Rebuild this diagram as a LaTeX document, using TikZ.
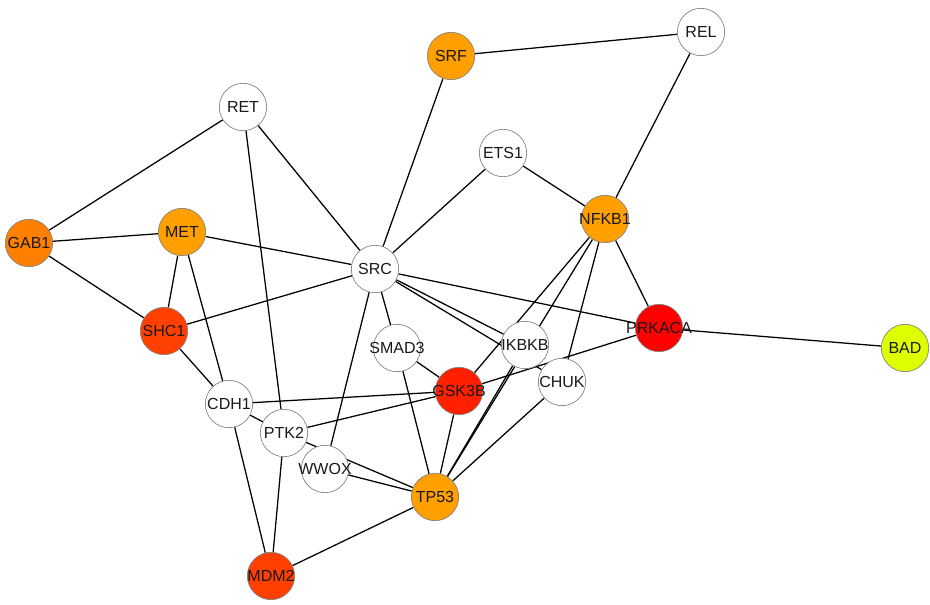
\documentclass[tikz,border=0pt]{standalone}
\usepackage{fontspec}
\setmainfont{Liberation Sans}
\usetikzlibrary{backgrounds}
\definecolor{cOrA}{HTML}{FFA000}
\definecolor{cOrB}{HTML}{FF8000}
\definecolor{cRdA}{HTML}{FF4000}
\definecolor{cRdB}{HTML}{FF2000}
\definecolor{cRdC}{HTML}{FF0000}
\definecolor{cYel}{HTML}{DDFF00}
\definecolor{cRim}{HTML}{808080}
\tikzset{
  nd/.style={circle, draw=cRim, line width=0.5pt, fill=white, minimum size=35.5pt, inner sep=0pt,
    label={[font=\fontsize{12}{12}\selectfont, text=black!90, inner sep=0pt]center:#1}},
  ed/.style={draw=black, line width=0.95pt},
}
\begin{document}
\begin{tikzpicture}[x=0.75pt, y=-0.75pt]
\useasboundingbox (0,0) rectangle (930,605);
\node[nd=REL] (REL) at (701,32) {};
\node[nd=SRF, fill=cOrA] (SRF) at (451,56) {};
\node[nd=RET] (RET) at (243,107) {};
\node[nd=ETS1] (ETS1) at (503,153) {};
\node[nd=NFKB1, fill=cOrA] (NFKB1) at (605,219) {};
\node[nd=GAB1, fill=cOrB] (GAB1) at (29,243) {};
\node[nd=MET, fill=cOrA] (MET) at (182,232) {};
\node[nd=SRC] (SRC) at (375,269) {};
\node[nd=SHC1, fill=cRdA] (SHC1) at (164,331) {};
\node[nd=PRKACA, fill=cRdC] (PRKACA) at (659,328) {};
\node[nd=BAD, fill=cYel] (BAD) at (905,348) {};
\node[nd=SMAD3] (SMAD3) at (397,348) {};
\node[nd=IKBKB] (IKBKB) at (525,345) {};
\node[nd=CHUK] (CHUK) at (562,382) {};
\node[nd=GSK3B, fill=cRdB] (GSK3B) at (459,391) {};
\node[nd=CDH1] (CDH1) at (229,404) {};
\node[nd=PTK2] (PTK2) at (284,433) {};
\node[nd=WWOX] (WWOX) at (325,469) {};
\node[nd=TP53, fill=cOrA] (TP53) at (435,497) {};
\node[nd=MDM2, fill=cRdA] (MDM2) at (271,576) {};
\begin{pgfonlayer}{background}
\path[ed] (SRF) -- (REL);
\path[ed] (SRF) -- (SRC);
\path[ed] (REL) -- (NFKB1);
\path[ed] (RET) -- (GAB1);
\path[ed] (RET) -- (SRC);
\path[ed] (RET) -- (PTK2);
\path[ed] (ETS1) -- (SRC);
\path[ed] (ETS1) -- (NFKB1);
\path[ed] (NFKB1) -- (PRKACA);
\path[ed] (NFKB1) -- (GSK3B);
\path[ed] (NFKB1) -- (TP53);
\path[ed] (NFKB1) -- (CHUK);
\path[ed] (GAB1) -- (MET);
\path[ed] (GAB1) -- (SHC1);
\path[ed] (MET) -- (SRC);
\path[ed] (MET) -- (SHC1);
\path[ed] (MET) -- (CDH1);
\path[ed] (SRC) -- (SHC1);
\path[ed] (SRC) -- (PRKACA);
\path[ed] (SRC) -- (IKBKB);
\path[ed] (SRC) -- (CHUK);
\path[ed] (SRC) -- (SMAD3);
\path[ed] (SRC) -- (WWOX);
\path[ed] (PRKACA) -- (BAD);
\path[ed] (PRKACA) -- (GSK3B);
\path[ed] (GSK3B) -- (PTK2);
\path[ed] (SHC1) -- (CDH1);
\path[ed] (CDH1) -- (GSK3B);
\path[ed] (CDH1) -- (PTK2);
\path[ed] (CDH1) -- (MDM2);
\path[ed] (PTK2) -- (TP53);
\path[ed] (WWOX) -- (TP53);
\path[ed] (PTK2) -- (MDM2);
\path[ed] (SMAD3) -- (GSK3B);
\path[ed] (SMAD3) -- (TP53);
\path[ed] (GSK3B) -- (TP53);
\path[ed] (IKBKB) -- (TP53);
\path[ed] (CHUK) -- (TP53);
\path[ed] (TP53) -- (MDM2);
\end{pgfonlayer}
\end{tikzpicture}
\end{document}
